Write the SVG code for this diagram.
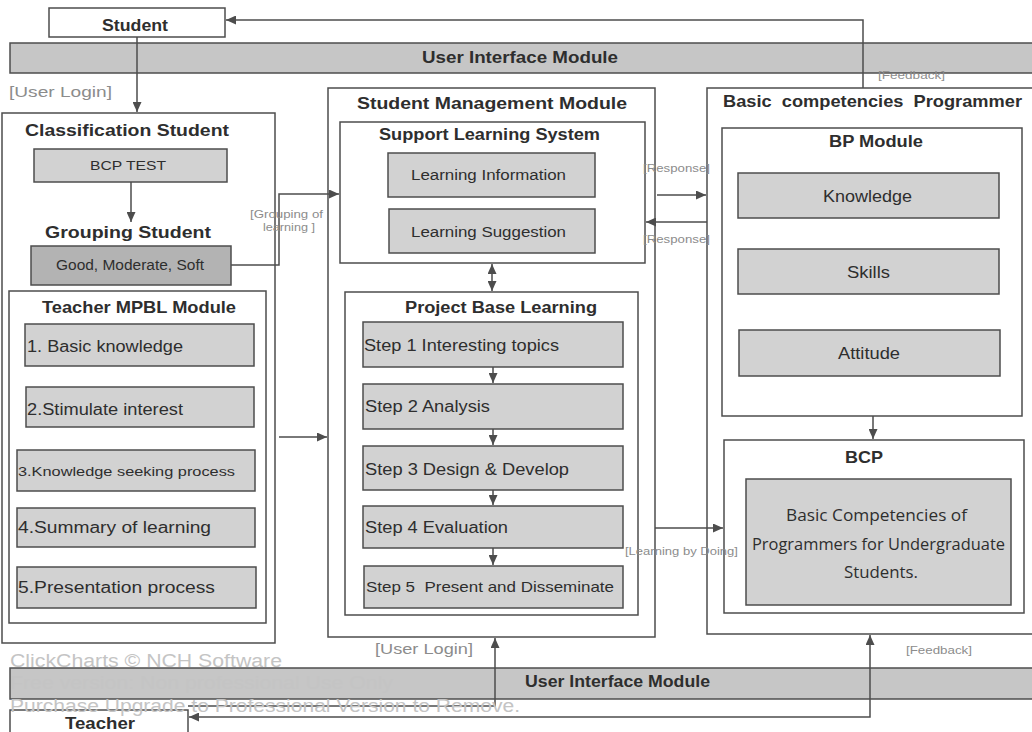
<svg xmlns="http://www.w3.org/2000/svg" width="1032" height="732" viewBox="0 0 1032 732">
  <style>
    .frame { fill: #ffffff; stroke: #4d4d4d; stroke-width: 1.5; }
    .item { fill: #d2d2d2; stroke: #4d4d4d; stroke-width: 1.5; }
    .dark { fill: #b3b3b3; stroke: #4d4d4d; stroke-width: 1.5; }
    .band { fill: #c6c6c6; stroke: #4d4d4d; stroke-width: 1.5; }
    .title { font-family: "Liberation Sans", Arial, sans-serif; font-weight: bold; fill: #2e2e2e; }
    .body { font-family: "Liberation Sans", Arial, sans-serif; fill: #2e2e2e; }
    .humanist { font-family: "Open Sans", "Noto Sans", sans-serif; fill: #2e2e2e; }
    .label { font-family: "Liberation Sans", Arial, sans-serif; fill: #8c8c8c; }
    .mark { font-family: "Liberation Sans", Arial, sans-serif; fill: #c4c4c4; }
    .wire { fill: none; stroke: #4d4d4d; stroke-width: 1.5; }
  </style>
  <defs>
    <marker id="arrow" markerUnits="userSpaceOnUse" markerWidth="11" markerHeight="9" refX="10" refY="4.5" orient="auto-start-reverse">
      <path d="M0,0 L10,4.5 L0,9 z" fill="#4d4d4d"/>
    </marker>
  </defs>

  <rect width="1032" height="732" fill="#ffffff"/>

  <!-- interface bands -->
  <g id="ui-top">
    <rect class="band" x="10" y="43" width="1030" height="30"/>
    <text class="title" x="422" y="63" font-size="17" textLength="196" lengthAdjust="spacingAndGlyphs">User Interface Module</text>
  </g>
  <g id="ui-bottom">
    <rect class="band" x="10" y="668" width="1030" height="31"/>
    <text class="title" x="525" y="687" font-size="17" textLength="185" lengthAdjust="spacingAndGlyphs">User Interface Module</text>
  </g>

  <!-- actors -->
  <g id="student">
    <rect class="frame" x="49" y="8" width="176" height="29"/>
    <text class="title" x="102" y="31" font-size="17" textLength="66" lengthAdjust="spacingAndGlyphs">Student</text>
  </g>
  <g id="teacher">
    <rect class="frame" x="10" y="710" width="178" height="30"/>
    <text class="title" x="65" y="729" font-size="17" textLength="70" lengthAdjust="spacingAndGlyphs">Teacher</text>
  </g>

  <!-- classification column -->
  <g id="classification-student">
    <rect class="frame" x="2" y="113" width="273" height="530"/>
    <text class="title" x="25" y="136" font-size="17" textLength="204" lengthAdjust="spacingAndGlyphs">Classification Student</text>
  </g>
  <g id="bcp-test">
    <rect class="item" x="34" y="149" width="193" height="33"/>
    <text class="body" x="90" y="170" font-size="13" textLength="76" lengthAdjust="spacingAndGlyphs">BCP TEST</text>
  </g>
  <g id="grouping-student">
    <text class="title" x="45" y="238" font-size="17" textLength="166" lengthAdjust="spacingAndGlyphs">Grouping Student</text>
    <rect class="dark" x="31" y="246" width="200" height="39"/>
    <text class="body" x="56" y="270" font-size="14" textLength="148" lengthAdjust="spacingAndGlyphs">Good, Moderate, Soft</text>
  </g>
  <g id="teacher-mpbl-module">
    <rect class="frame" x="9" y="291" width="257" height="332"/>
    <text class="title" x="42" y="313" font-size="17" textLength="194" lengthAdjust="spacingAndGlyphs">Teacher MPBL Module</text>
  </g>
  <g id="mpbl-1">
    <rect class="item" x="25" y="324" width="229" height="42"/>
    <text class="body" x="27" y="352" font-size="16" textLength="156" lengthAdjust="spacingAndGlyphs">1. Basic knowledge</text>
  </g>
  <g id="mpbl-2">
    <rect class="item" x="26" y="387" width="228" height="40"/>
    <text class="body" x="27" y="415" font-size="16" textLength="156" lengthAdjust="spacingAndGlyphs">2.Stimulate interest</text>
  </g>
  <g id="mpbl-3">
    <rect class="item" x="17" y="450" width="238" height="41"/>
    <text class="body" x="18" y="476" font-size="13" textLength="217" lengthAdjust="spacingAndGlyphs">3.Knowledge seeking process</text>
  </g>
  <g id="mpbl-4">
    <rect class="item" x="17" y="508" width="238" height="39"/>
    <text class="body" x="18" y="533" font-size="16" textLength="193" lengthAdjust="spacingAndGlyphs">4.Summary of learning</text>
  </g>
  <g id="mpbl-5">
    <rect class="item" x="17" y="567" width="239" height="41"/>
    <text class="body" x="18" y="593" font-size="16" textLength="197" lengthAdjust="spacingAndGlyphs">5.Presentation process</text>
  </g>

  <!-- student management column -->
  <g id="student-management-module">
    <rect class="frame" x="328" y="88" width="327" height="549"/>
    <text class="title" x="357" y="109" font-size="17" textLength="270" lengthAdjust="spacingAndGlyphs">Student Management Module</text>
  </g>
  <g id="support-learning-system">
    <rect class="frame" x="340" y="122" width="305" height="141"/>
    <text class="title" x="379" y="140" font-size="16" textLength="221" lengthAdjust="spacingAndGlyphs">Support Learning System</text>
  </g>
  <g id="learning-information">
    <rect class="item" x="388" y="153" width="207" height="44"/>
    <text class="body" x="411" y="180" font-size="14" textLength="155" lengthAdjust="spacingAndGlyphs">Learning Information</text>
  </g>
  <g id="learning-suggestion">
    <rect class="item" x="389" y="209" width="206" height="44"/>
    <text class="body" x="411" y="237" font-size="14" textLength="155" lengthAdjust="spacingAndGlyphs">Learning Suggestion</text>
  </g>
  <g id="project-base-learning">
    <rect class="frame" x="345" y="292" width="293" height="323"/>
    <text class="title" x="405" y="313" font-size="16" textLength="192" lengthAdjust="spacingAndGlyphs">Project Base Learning</text>
  </g>
  <g id="step-1">
    <rect class="item" x="363" y="322" width="260" height="45"/>
    <text class="body" x="364" y="351" font-size="16" textLength="195" lengthAdjust="spacingAndGlyphs">Step 1 Interesting topics</text>
  </g>
  <g id="step-2">
    <rect class="item" x="363" y="384" width="260" height="45"/>
    <text class="body" x="365" y="412" font-size="16" textLength="125" lengthAdjust="spacingAndGlyphs">Step 2 Analysis</text>
  </g>
  <g id="step-3">
    <rect class="item" x="363" y="446" width="260" height="44"/>
    <text class="body" x="365" y="475" font-size="16" textLength="204" lengthAdjust="spacingAndGlyphs">Step 3 Design &amp; Develop</text>
  </g>
  <g id="step-4">
    <rect class="item" x="363" y="506" width="260" height="42"/>
    <text class="body" x="365" y="533" font-size="16" textLength="143" lengthAdjust="spacingAndGlyphs">Step 4 Evaluation</text>
  </g>
  <g id="step-5">
    <rect class="item" x="364" y="566" width="259" height="42"/>
    <text class="body" x="366" y="592" font-size="15" textLength="248" lengthAdjust="spacingAndGlyphs" xml:space="preserve">Step 5  Present and Disseminate</text>
  </g>

  <!-- competencies column -->
  <g id="basic-competencies-programmer">
    <rect class="frame" x="707" y="88" width="330" height="546"/>
    <text class="title" x="723" y="107" font-size="17" textLength="299" lengthAdjust="spacingAndGlyphs" xml:space="preserve">Basic  competencies  Programmer</text>
  </g>
  <g id="bp-module">
    <rect class="frame" x="722" y="128" width="300" height="288"/>
    <text class="title" x="829" y="147" font-size="16" textLength="94" lengthAdjust="spacingAndGlyphs">BP Module</text>
  </g>
  <g id="knowledge">
    <rect class="item" x="738" y="173" width="261" height="45"/>
    <text class="body" x="823" y="202" font-size="16" textLength="89" lengthAdjust="spacingAndGlyphs">Knowledge</text>
  </g>
  <g id="skills">
    <rect class="item" x="738" y="249" width="261" height="45"/>
    <text class="body" x="847" y="278" font-size="16" textLength="43" lengthAdjust="spacingAndGlyphs">Skills</text>
  </g>
  <g id="attitude">
    <rect class="item" x="739" y="330" width="261" height="46"/>
    <text class="body" x="838" y="359" font-size="16" textLength="62" lengthAdjust="spacingAndGlyphs">Attitude</text>
  </g>
  <g id="bcp">
    <rect class="frame" x="724" y="440" width="300" height="173"/>
    <text class="title" x="845" y="463" font-size="17" textLength="38" lengthAdjust="spacingAndGlyphs">BCP</text>
  </g>
  <g id="bcp-description">
    <rect class="item" x="746" y="479" width="265" height="126"/>
    <text class="humanist" font-size="16">
      <tspan x="786" y="521" textLength="181" lengthAdjust="spacingAndGlyphs">Basic Competencies of</tspan>
      <tspan x="752" y="550" textLength="253" lengthAdjust="spacingAndGlyphs">Programmers for Undergraduate</tspan>
      <tspan x="844" y="578" textLength="74" lengthAdjust="spacingAndGlyphs">Students.</tspan>
    </text>
  </g>

  <!-- connectors -->
  <g id="connectors">
    <path class="wire" d="M863,88 V20 H226" marker-end="url(#arrow)"/>
    <path class="wire" d="M137,37 V112" marker-end="url(#arrow)"/>
    <path class="wire" d="M131,182 V222" marker-end="url(#arrow)"/>
    <path class="wire" d="M231,265 H279 V194 H339" marker-end="url(#arrow)"/>
    <path class="wire" d="M279,437 H327" marker-end="url(#arrow)"/>
    <path class="wire" d="M492,264 V291" marker-start="url(#arrow)" marker-end="url(#arrow)"/>
    <path class="wire" d="M493,367 V383" marker-end="url(#arrow)"/>
    <path class="wire" d="M493,429 V445" marker-end="url(#arrow)"/>
    <path class="wire" d="M493,490 V505" marker-end="url(#arrow)"/>
    <path class="wire" d="M493,548 V565" marker-end="url(#arrow)"/>
    <path class="wire" d="M657,195 H706" marker-end="url(#arrow)"/>
    <path class="wire" d="M707,222 H646" marker-end="url(#arrow)"/>
    <path class="wire" d="M655,528 H723" marker-end="url(#arrow)"/>
    <path class="wire" d="M873,416 V439" marker-end="url(#arrow)"/>
    <path class="wire" d="M188,706 H495 V638" marker-end="url(#arrow)"/>
    <path class="wire" d="M189,717 H870 V635" marker-start="url(#arrow)" marker-end="url(#arrow)"/>

    <text class="label" x="9" y="97" font-size="15" textLength="103" lengthAdjust="spacingAndGlyphs">[User Login]</text>
    <text class="label" x="878" y="79" font-size="10" textLength="67" lengthAdjust="spacingAndGlyphs">[Feedback]</text>
    <text class="label" x="250" y="218" font-size="10" textLength="73" lengthAdjust="spacingAndGlyphs">[Grouping  of</text>
    <text class="label" x="263" y="231" font-size="10" textLength="52" lengthAdjust="spacingAndGlyphs">learning ]</text>
    <text class="label" x="643" y="172" font-size="10" textLength="67" lengthAdjust="spacingAndGlyphs">[Response]</text>
    <text class="label" x="643" y="243" font-size="10" textLength="67" lengthAdjust="spacingAndGlyphs">[Response]</text>
    <text class="label" x="625" y="555" font-size="10" textLength="113" lengthAdjust="spacingAndGlyphs">[Learning by Doing]</text>
    <text class="label" x="375" y="654" font-size="15" textLength="98" lengthAdjust="spacingAndGlyphs">[User Login]</text>
    <text class="label" x="906" y="654" font-size="10" textLength="66" lengthAdjust="spacingAndGlyphs">[Feedback]</text>
  </g>

  <!-- software notice printed across the lower left -->
  <g id="notice">
    <text class="mark" x="10" y="667" font-size="18" textLength="272" lengthAdjust="spacingAndGlyphs">ClickCharts © NCH Software</text>
    <text class="mark" x="10" y="689" font-size="18" textLength="383" lengthAdjust="spacingAndGlyphs">Free version: Non professional Use Only</text>
    <text class="mark" x="10" y="712" font-size="18" textLength="510" lengthAdjust="spacingAndGlyphs">Purchase Upgrade to Professional Version to Remove.</text>
  </g>
</svg>
